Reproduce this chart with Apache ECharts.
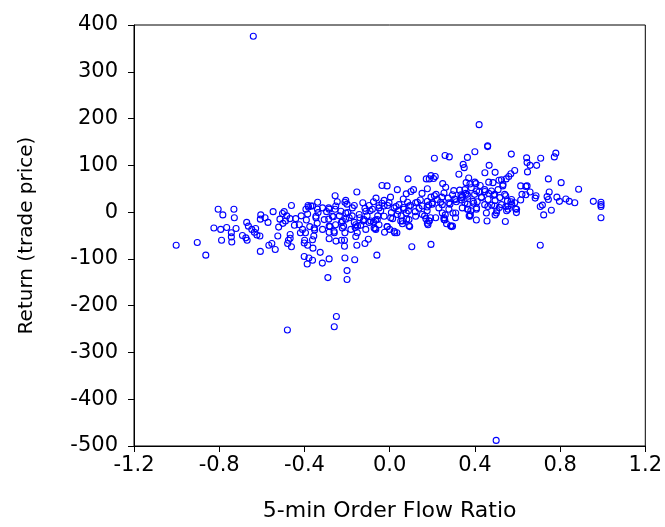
<!DOCTYPE html>
<html>
<head>
<meta charset="utf-8">
<script src="https://cdn.jsdelivr.net/npm/echarts@6/dist/echarts.min.js"></script>
<style>html,body{margin:0;padding:0;background:#fff}#c{width:665px;height:527px}</style>
</head>
<body>
<div id="c"></div>
<script>
// Axis ticks
var xTicks = [-1.2, -0.8, -0.4, 0.0, 0.4, 0.8, 1.2];
var yTicks = [-500, -400, -300, -200, -100, 0, 100, 200, 300, 400];
var xTitle = '5-min Order Flow Ratio';
var yTitle = 'Return (trade price)';

// [order flow ratio, return]
var outlierPoints = [[-0.64,376],[0.42,187],[0.50,-488],[-0.48,-252],[-0.25,-223],[-0.26,-245],[-0.29,-140],[-0.20,-144],[-0.20,-125],[0.46,142],[0.46,140],[0.40,129],[0.21,115],[0.26,121],[0.28,118],[0.365,117],[0.571,124],[0.643,116],[0.645,106],[0.659,100],[0.69,100],[0.709,115],[0.78,126],[0.773,118],[0.345,102],[0.35,95],[0.467,100],[0.325,81],[0.447,84],[0.495,85],[0.587,89],[0.569,82],[0.647,86],[0.559,76],[0.547,71],[0.525,69],[0.513,68],[0.465,64],[0.485,63]];

var rightPoints = [[0.745,71],[0.805,63],[0.887,49],[0.956,23],[0.992,21],[0.992,16],[0.992,12],[0.992,-12],[0.869,20],[0.843,23],[0.827,28],[0.797,23],[0.785,32],[0.759,4],[0.745,27],[0.749,43],[0.739,33],[0.717,15],[0.707,12],[0.723,-6],[0.707,-71],[0.687,35],[0.683,30],[0.659,43],[0.639,55],[0.645,56],[0.615,56],[0.621,38],[0.615,26],[0.639,37],[0.591,7],[0.595,-1],[0.569,22],[0.573,17],[0.553,24],[0.545,35],[0.543,-20],[0.545,12],[0.549,3],[0.515,10],[0.503,3],[0.495,-6],[0.531,56],[0.457,-19],[0.447,44],[0.465,40],[0.489,36],[0.495,25],[0.479,15],[0.461,12],[0.431,32],[0.411,22],[0.407,-17],[0.407,6],[0.381,3],[0.373,-8],[0.365,6],[0.365,17],[0.395,19],[0.419,43],[0.425,57],[0.405,61],[0.40,64],[0.377,60],[0.371,73],[0.383,52],[0.359,63],[0.357,40],[0.335,37],[0.329,47],[0.337,26],[0.313,22],[0.305,28],[0.295,37],[0.301,46],[0.309,-12],[0.297,-2],[0.29,-31],[0.295,-30],[0.267,-25],[0.259,-17],[0.255,-12],[0.261,-6],[0.249,61],[0.263,53],[0.255,41],[0.245,32],[0.239,21],[0.231,9],[0.275,30],[0.283,17]];

var centerPoints = [[0.214,76],[0.206,72],[0.194,78],[0.186,71],[0.172,71],[0.194,-69],[0.21,35],[0.194,32],[0.218,38],[0.184,15],[0.176,11],[0.20,17],[0.176,3],[0.164,-8],[0.17,-14],[0.186,-19],[0.18,-27],[0.192,-12],[0.152,40],[0.144,26],[0.13,21],[0.138,8],[0.12,1],[0.112,48],[0.10,44],[0.086,71],[0.078,39],[0.064,28],[0.084,21],[0.098,14],[0.088,3],[0.078,-2],[0.064,10],[0.054,-8],[0.04,3],[0.03,12],[0.036,48],[0.104,-74],[0.094,-31],[0.08,-15],[0.06,-25],[0.024,-44],[0.034,-44],[0,-37],[-0.012,-31],[0.008,-1],[0.014,-14],[-0.01,14],[0.004,32],[-0.012,56],[-0.036,57],[-0.026,25],[-0.036,19],[-0.05,14],[-0.042,3],[-0.056,-8],[-0.064,30],[-0.076,22],[-0.066,-17],[-0.076,-21],[-0.068,-35],[-0.06,-92],[-0.024,-43],[-0.096,14],[-0.092,3],[-0.106,-8],[-0.096,-22],[-0.116,8],[-0.126,20],[-0.124,-19],[-0.14,-12],[-0.136,-28],[-0.10,-58],[-0.116,-67],[-0.154,-71],[-0.154,43],[-0.166,14],[-0.176,-8],[-0.166,-22],[-0.162,-33],[-0.152,-44],[-0.164,-102]];

var leftPoints = [[-0.21,21],[-0.206,25],[-0.20,17],[-0.196,-1],[-0.206,-15],[-0.216,-30],[-0.21,-44],[-0.212,-60],[-0.212,-73],[-0.21,-98],[-0.226,-60],[-0.236,-8],[-0.226,-22],[-0.246,22],[-0.256,35],[-0.256,6],[-0.264,-10],[-0.254,-27],[-0.26,-44],[-0.252,-62],[-0.286,9],[-0.296,1],[-0.286,-15],[-0.28,-31],[-0.284,-43],[-0.284,-57],[-0.284,-100],[-0.316,-109],[-0.326,-86],[-0.338,21],[-0.336,-1],[-0.346,-12],[-0.34,-24],[-0.352,-38],[-0.356,-51],[-0.36,-77],[-0.362,-103],[-0.383,14],[-0.381,11],[-0.385,-4],[-0.391,-17],[-0.375,-31],[-0.395,-44],[-0.399,-60],[-0.385,-71],[-0.401,-95],[-0.379,-98],[-0.387,-111],[-0.415,-8],[-0.419,-44],[-0.441,-14],[-0.447,-28],[-0.461,14],[-0.467,-48],[-0.467,-56],[-0.475,-60],[-0.461,-74],[-0.479,-67],[-0.483,-8],[-0.495,1],[-0.503,-3],[-0.489,-19],[-0.501,-24],[-0.515,-15],[-0.521,-32],[-0.525,-51],[-0.537,-80],[-0.547,1],[-0.553,-67],[-0.567,-71],[-0.571,-22],[-0.585,-12],[-0.605,-6],[-0.607,-15],[-0.607,-84],[-0.609,-51],[-0.623,-49],[-0.635,-43],[-0.629,-35],[-0.647,-37],[-0.663,-30],[-0.671,-22],[-0.675,-55],[-0.669,-60],[-0.691,-50],[-0.721,-35],[-0.729,-12],[-0.731,6],[-0.743,-44],[-0.743,-53],[-0.741,-64],[-0.765,-33],[-0.783,-6],[-0.805,6],[-0.793,-37],[-0.789,-60],[-0.825,-34],[-0.863,-92],[-0.903,-65],[-1.002,-71]];

var bandPoints = [[0.177,50],[-0.159,-52],[-0.065,-37],[-0.362,13],[-0.315,9],[-0.284,6],[-0.253,13],[-0.229,2],[-0.206,-2],[-0.175,9],[-0.143,-5],[-0.112,2],[-0.081,6],[-0.050,9],[-0.026,13],[-0.003,20],[0.021,9],[0.044,16],[0.067,6],[0.091,13],[0.122,20],[0.153,13],[0.177,23],[0.200,20],[0.224,27],[0.247,16],[0.278,20],[0.310,27],[0.341,34],[0.364,38],[-0.346,-9],[-0.307,-16],[-0.269,-9],[-0.222,-19],[-0.190,-12],[-0.159,-27],[-0.120,-16],[-0.089,-19],[-0.058,-16],[-0.026,-9],[0.005,-12],[0.036,-5],[0.060,-19],[0.091,-16],[0.122,-9],[0.153,-5],[0.185,-19],[0.216,-12],[0.247,-2],[0.278,6],[0.310,-2],[0.341,9],[-0.354,-34],[-0.315,-37],[-0.284,-30],[-0.261,-41],[-0.222,-34],[-0.182,-37],[-0.151,-30],[-0.112,-37],[-0.073,-34],[-0.050,-27],[-0.011,-31],[0.021,-41],[0.052,-19],[0.091,-29],[0.177,-24],[0.255,-16],[0.286,-29],[-0.468,-14],[-0.393,6],[-0.370,13],[-0.339,6],[-0.424,-27],[-0.409,-37],[-0.362,-59],[-0.401,-66]];

var clusterPoints = [[0.353,48],[0.408,45],[0.446,48],[0.478,45],[0.353,20],[0.392,23],[0.431,31],[0.462,27],[0.493,38],[0.517,31],[0.540,38],[0.572,27],[0.368,6],[0.408,9],[0.446,16],[0.493,13],[0.525,16],[0.556,13],[0.587,20],[0.376,-9],[0.454,-2],[0.501,-2],[0.337,31],[0.509,48],[0.532,59],[0.556,6],[0.596,6],[0.379,-6],[0.368,34],[0.399,38]];

var allPoints = [].concat(outlierPoints, rightPoints, centerPoints, leftPoints, bandPoints, clusterPoints);

var font = 'DejaVu Sans, sans-serif';
var chart = echarts.init(document.getElementById('c'), null, {renderer: 'canvas'});
chart.setOption({
  animation: false,
  backgroundColor: '#ffffff',
  grid: {left: 134, right: 18, top: 25, bottom: 80, show: true, borderColor: '#000', borderWidth: 1},
  xAxis: {
    type: 'value', min: xTicks[0], max: xTicks[xTicks.length - 1], interval: 0.4,
    splitLine: {show: false},
    axisLine: {show: true, onZero: false, lineStyle: {color: '#000', width: 1}},
    axisTick: {show: true, inside: false, length: 6, lineStyle: {color: '#000'}},
    axisLabel: {color: '#000', fontFamily: font, fontSize: 21, margin: 9,
      formatter: function (v) { return (Math.round(v * 10) / 10).toFixed(1); }},
    name: xTitle, nameLocation: 'middle', nameGap: 54,
    nameTextStyle: {color: '#000', fontFamily: font, fontSize: 22}
  },
  yAxis: {
    type: 'value', min: yTicks[0], max: yTicks[yTicks.length - 1], interval: 100,
    splitLine: {show: false},
    axisLine: {show: true, onZero: false, lineStyle: {color: '#000', width: 1}},
    axisTick: {show: true, inside: false, length: 6, lineStyle: {color: '#000'}},
    axisLabel: {color: '#000', fontFamily: font, fontSize: 21, margin: 16},
    name: yTitle, nameLocation: 'middle', nameGap: 97, nameRotate: 90,
    nameTextStyle: {color: '#000', fontFamily: font, fontSize: 20}
  },
  series: [{
    type: 'scatter', silent: true,
    symbol: 'circle', symbolSize: 6,
    itemStyle: {color: 'rgba(0,0,0,0)', borderColor: '#0000ff', borderWidth: 1.1, opacity: 1},
    data: allPoints
  }]
});
</script>
</body>
</html>
